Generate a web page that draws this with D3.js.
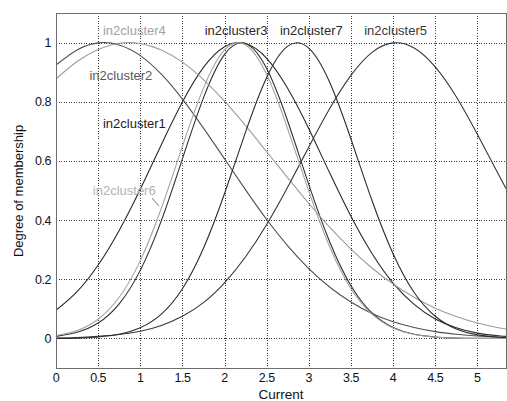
<!DOCTYPE html>
<html>
<head>
<meta charset="utf-8">
<script src="https://cdn.jsdelivr.net/npm/d3@7"></script>
<style>
  body { margin: 0; background: #fff; }
  svg { display: block; font-family: "Liberation Sans", Arial, sans-serif; }
</style>
</head>
<body>
<svg id="chart" width="507" height="401"></svg>
<script>
// sampled input values (Current)
const xs = [0, 0.25, 0.5, 0.75, 1, 1.25, 1.5, 1.75, 2, 2.25, 2.5, 2.75, 3, 3.25, 3.5, 3.75, 4, 4.25, 4.5, 4.75, 5, 5.25, 5.34];

// degree of membership, one list per MF
const in2cluster1 = [0.095, 0.158, 0.248, 0.365, 0.504, 0.655, 0.799, 0.916, 0.986, 0.997, 0.947, 0.845, 0.709, 0.558, 0.413, 0.287, 0.187, 0.115, 0.066, 0.036, 0.018, 0.009, 0.007];
const in2cluster2 = [0.924, 0.975, 0.999, 0.992, 0.956, 0.893, 0.809, 0.711, 0.607, 0.502, 0.402, 0.313, 0.236, 0.173, 0.123, 0.084, 0.056, 0.037, 0.023, 0.014, 0.008, 0.005, 0.004];
const in2cluster3 = [0.007, 0.021, 0.052, 0.117, 0.230, 0.398, 0.607, 0.813, 0.960, 0.997, 0.912, 0.734, 0.520, 0.325, 0.178, 0.086, 0.037, 0.014, 0.005, 0.001, 0, 0, 0];
const in2cluster4 = [0.877, 0.936, 0.977, 0.998, 0.997, 0.975, 0.934, 0.875, 0.802, 0.719, 0.631, 0.543, 0.456, 0.375, 0.302, 0.238, 0.184, 0.139, 0.102, 0.074, 0.052, 0.036, 0.032];
const in2cluster5 = [0.001, 0.003, 0.007, 0.013, 0.024, 0.044, 0.075, 0.121, 0.188, 0.276, 0.385, 0.512, 0.647, 0.778, 0.889, 0.967, 0.999, 0.982, 0.918, 0.817, 0.690, 0.555, 0.507];
const in2cluster6 = [0.010, 0.027, 0.065, 0.139, 0.263, 0.440, 0.649, 0.846, 0.975, 0.992, 0.892, 0.708, 0.497, 0.308, 0.168, 0.082, 0.035, 0.013, 0.004, 0.001, 0, 0, 0];
const in2cluster7 = [0, 0.001, 0.005, 0.014, 0.036, 0.082, 0.168, 0.305, 0.490, 0.698, 0.882, 0.988, 0.981, 0.864, 0.674, 0.466, 0.286, 0.155, 0.075, 0.032, 0.012, 0.004, 0.003];

const xTicks = [0, 0.5, 1, 1.5, 2, 2.5, 3, 3.5, 4, 4.5, 5];
const yTicks = [0, 0.2, 0.4, 0.6, 0.8, 1];

const series = [
  { name: 'in2cluster1', values: in2cluster1 },
  { name: 'in2cluster2', values: in2cluster2 },
  { name: 'in2cluster3', values: in2cluster3 },
  { name: 'in2cluster4', values: in2cluster4 },
  { name: 'in2cluster5', values: in2cluster5 },
  { name: 'in2cluster6', values: in2cluster6 },
  { name: 'in2cluster7', values: in2cluster7 }
];

// look of each curve + where its name sits (data coords of label centre / baseline)
const look = {
  in2cluster1: { stroke: '#2a2a2a', text: '#1e1e1e', lx: 0.93, ly: 0.712 },
  in2cluster2: { stroke: '#505050', text: '#5a5a5a', lx: 0.77, ly: 0.874 },
  in2cluster3: { stroke: '#303030', text: '#2a2a2a', lx: 2.137, ly: 1.024 },
  in2cluster4: { stroke: '#9c9c9c', text: '#a2a2a2', lx: 0.93, ly: 1.024 },
  in2cluster5: { stroke: '#383838', text: '#3a3a3a', lx: 4.03, ly: 1.024 },
  in2cluster6: { stroke: '#a4a4a4', text: '#b2b2b2', lx: 0.81, ly: 0.485 },
  in2cluster7: { stroke: '#2c2c2c', text: '#2a2a2a', lx: 3.03, ly: 1.024 }
};

const svg = d3.select('#chart');
const plot = { left: 56, right: 506, top: 13, bottom: 368 };

const x = d3.scaleLinear().domain([0, 5.34]).range([plot.left, plot.right]);
const y = d3.scaleLinear().domain([-0.1, 1.1]).range([plot.bottom, plot.top]);

// dotted grid
const grid = svg.append('g').attr('class', 'grid')
  .attr('stroke', '#3a3a3a')
  .attr('stroke-width', 1)
  .attr('stroke-dasharray', '1,1.5')
  .attr('shape-rendering', 'crispEdges');
grid.selectAll('.gx').data(xTicks.slice(1))
  .join('line')
  .attr('x1', d => Math.round(x(d)) + 0.5).attr('x2', d => Math.round(x(d)) + 0.5)
  .attr('y1', plot.top).attr('y2', plot.bottom);
grid.selectAll('.gy').data(yTicks)
  .join('line')
  .attr('y1', d => Math.round(y(d)) + 0.5).attr('y2', d => Math.round(y(d)) + 0.5)
  .attr('x1', plot.left).attr('x2', plot.right);

svg.append('clipPath').attr('id', 'clip')
  .append('rect')
  .attr('x', plot.left).attr('y', plot.top)
  .attr('width', plot.right - plot.left).attr('height', plot.bottom - plot.top);

const line = d3.line()
  .x((d, i) => x(xs[i]))
  .y(d => y(d))
  .curve(d3.curveNatural);

svg.append('g').attr('clip-path', 'url(#clip)')
  .selectAll('path').data(series)
  .join('path')
  .attr('fill', 'none')
  .attr('stroke', d => look[d.name].stroke)
  .attr('stroke-width', 1.1)
  .attr('d', d => line(d.values));

// frame
svg.append('rect')
  .attr('x', plot.left + 0.5).attr('y', plot.top + 0.5)
  .attr('width', plot.right - plot.left).attr('height', plot.bottom - plot.top)
  .attr('fill', 'none')
  .attr('stroke', '#6e6e6e')
  .attr('stroke-width', 1)
  .attr('shape-rendering', 'crispEdges');

// tick labels
const fmt = d3.format('~g');
svg.append('g')
  .selectAll('text').data(xTicks)
  .join('text')
  .attr('x', d => x(d))
  .attr('y', 382)
  .attr('text-anchor', 'middle')
  .attr('font-size', 12.5)
  .attr('letter-spacing', -0.5)
  .attr('fill', '#111')
  .text(fmt);

svg.append('g')
  .selectAll('text').data(yTicks)
  .join('text')
  .attr('x', 51)
  .attr('y', d => y(d) + 4.5)
  .attr('text-anchor', 'end')
  .attr('font-size', 12.5)
  .attr('letter-spacing', -0.5)
  .attr('fill', '#111')
  .text(fmt);

// axis titles
svg.append('text')
  .attr('x', 281).attr('y', 398.5)
  .attr('text-anchor', 'middle')
  .attr('font-size', 13.5)
  .attr('fill', '#111')
  .text('Current');

svg.append('text')
  .attr('transform', 'translate(23,191) rotate(-90)')
  .attr('text-anchor', 'middle')
  .attr('font-size', 13)
  .attr('fill', '#111')
  .text('Degree of membership');

// MF names
svg.append('g')
  .selectAll('text').data(series)
  .join('text')
  .attr('x', d => x(look[d.name].lx))
  .attr('y', d => y(look[d.name].ly))
  .attr('text-anchor', 'middle')
  .attr('font-size', 13)
  .attr('fill', d => look[d.name].text)
  .text(d => d.name);

// little leader under in2cluster6
svg.append('line')
  .attr('x1', 152).attr('y1', 198)
  .attr('x2', 159).attr('y2', 206)
  .attr('stroke', '#7a7a7a')
  .attr('stroke-width', 1);
</script>
</body>
</html>
